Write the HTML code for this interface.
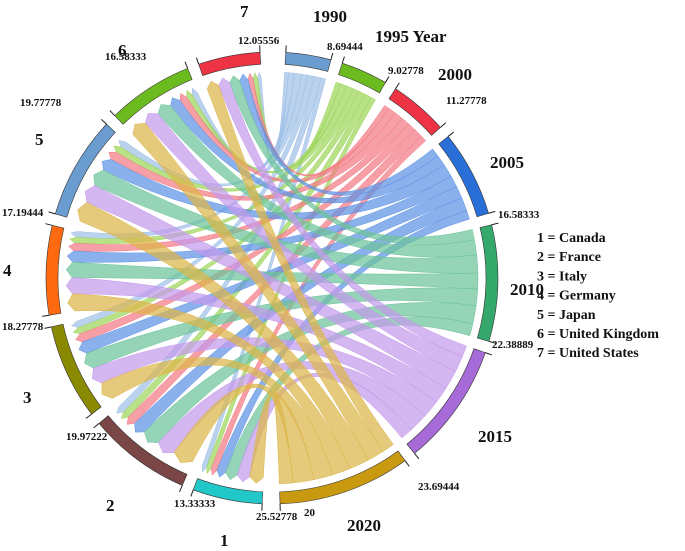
<!DOCTYPE html>
<html><head><meta charset="utf-8"><style>
body{margin:0;background:#fff}
svg{display:block}
text{font-family:"Liberation Serif",serif;font-weight:bold;fill:#111}
.v{font-size:11px}.n{font-size:17px}.lg{font-size:14px}
</style></head><body>
<svg id="c" width="685" height="551"></svg>
<script>
const years=["1990","1995","2000","2005","2010","2015","2020"];
const yearTotals=["8.69444","9.02778","11.27778","16.58333","22.38889","23.69444","25.52778"];
const countries=["1","2","3","4","5","6","7"];
const countryTotals=["13.33333","19.97222","18.27778","17.19444","19.77778","16.58333","12.05556"];
const flow1990=[1.0,1.5,1.4,1.3,1.5,1.2,0.8];
const flow1995=[1.0,1.5,1.4,1.3,1.5,1.3,1.0];
const flow2000=[1.3,1.9,1.8,1.7,1.9,1.6,1.1];
const flow2005=[1.9,2.8,2.6,2.4,2.8,2.3,1.8];
const flow2010=[2.6,3.8,3.5,3.3,3.8,3.2,2.2];
const flow2015=[2.7,4.0,3.7,3.5,4.0,3.4,2.4];
const flow2020=[2.9,4.4,4.0,3.7,4.3,3.6,2.6];
const flows=[flow1990,flow1995,flow2000,flow2005,flow2010,flow2015,flow2020];
const legend=["1 = Canada","2 = France","3 = Italy","4 = Germany","5 = Japan","6 = United Kingdom","7 = United States"];

const yearCol=["#6a9ccf","#6cbb1e","#ee3344","#2a6fd8","#35a86c","#a76ad9","#c99a10"];
const ribCol=["#9fc0e6","#9ed65a","#f47a85","#5e93e6","#6cc49a","#c49aec","#dcb64a"];
const cCol=["#22c8c8","#7a4646","#8a8a00","#ff6a10","#6a9ccf","#6cbb1e","#ee3344"];
const cx=272,cy=278,R1=214,R2=226,RR=206,GAP=3,S=1.335;
const svg=document.getElementById('c');
const NS="http://www.w3.org/2000/svg";
function pt(a,r){const t=a*Math.PI/180;return [cx+r*Math.sin(t),cy-r*Math.cos(t)];}
function el(tag,at){const e=document.createElementNS(NS,tag);for(const k in at)e.setAttribute(k,at[k]);svg.appendChild(e);return e;}
function arcPath(a0,a1,r0,r1){const p=pt(a0,r1),q=pt(a1,r1),u=pt(a1,r0),v=pt(a0,r0);const l=(a1-a0)>180?1:0;
return `M${p}A${r1},${r1} 0 ${l} 1 ${q}L${u}A${r0},${r0} 0 ${l} 0 ${v}Z`;}
const ySum=flows.map(r=>r.reduce((a,b)=>a+b,0));
const cSum=countries.map((_,j)=>flows.reduce((a,r)=>a+r[j],0));
let yStart=[],a=3.5;
for(let i=0;i<7;i++){yStart.push(a);a+=ySum[i]*S+GAP;}
let cStart=[];a=182.5;
for(let j=0;j<7;j++){cStart.push(a);a+=cSum[j]*S+GAP;}
const yPos={},cPos={};
for(let i=0;i<7;i++){let s=yStart[i];for(let j=6;j>=0;j--){yPos[i+'_'+j]=[s,s+flows[i][j]*S];s+=flows[i][j]*S;}}
for(let j=0;j<7;j++){let s=cStart[j];for(let i=6;i>=0;i--){cPos[i+'_'+j]=[s,s+flows[i][j]*S];s+=flows[i][j]*S;}}
for(let i=0;i<7;i++)for(let j=0;j<7;j++){
 const [a0,a1]=yPos[i+'_'+j],[b0,b1]=cPos[i+'_'+j];
 const p0=pt(a0,RR),p1=pt(a1,RR),q0=pt(b0,RR-6),q1=pt(b1,RR-6),tip=pt((b0+b1)/2,RR);
 const m0=pt(a1,RR*0.25),m1=pt(a0,RR*0.25);
 const k0=[(m0[0]+cx)/2,(m0[1]+cy)/2],k1=[(m1[0]+cx)/2,(m1[1]+cy)/2];
 const d=`M${p0}A${RR},${RR} 0 0 1 ${p1}Q${k0} ${q0}L${tip}L${q1}Q${k1} ${p0}Z`;
 const e=el('path',{d:d,fill:ribCol[i],'fill-opacity':0.72,stroke:ribCol[i],'stroke-width':0.5});
 
 
}
for(let i=0;i<7;i++){
 const e=el('path',{d:arcPath(yStart[i],yStart[i]+ySum[i]*S,R1,R2),fill:yearCol[i],stroke:'#333','stroke-width':0.6});
 
 
}
for(let j=0;j<7;j++){
 const e=el('path',{d:arcPath(cStart[j],cStart[j]+cSum[j]*S,R1,R2),fill:cCol[j],stroke:'#333','stroke-width':0.6});
 
 
}
function tick(an){const p=pt(an,R2),q=pt(an,R2+7);el('line',{x1:p[0],y1:p[1],x2:q[0],y2:q[1],stroke:'#222','stroke-width':1});}
for(let i=0;i<7;i++){tick(yStart[i]);tick(yStart[i]+ySum[i]*S);}
for(let j=0;j<7;j++){tick(cStart[j]);tick(cStart[j]+cSum[j]*S);}
function txt(x,y,s,cls,name){const t=el('text',{x:x,y:y,class:cls});t.textContent=s;
 
 }
const yv=[[327,50],[388,74],[446,104],[498,218],[492,348],[418,490],[256,520]];
for(let i=0;i<7;i++)txt(yv[i][0],yv[i][1],yearTotals[i],'v','value-'+years[i]);
const cv=[[174,507],[66,440],[2,330],[2,216],[20,106],[105,60],[238,44]];
for(let j=0;j<7;j++)txt(cv[j][0],cv[j][1],countryTotals[j],'v','value-country-'+countries[j]);
txt(304,516,"20",'v','tick-20');
const yn=[[313,22],[375,42],[438,80],[490,168],[510,295],[478,442],[347,531]];
for(let i=0;i<7;i++)txt(yn[i][0],yn[i][1],i==1?"1995 Year":years[i],'n','label-'+years[i]);
const cn=[[220,546],[106,511],[23,403],[3,276],[35,145],[118,56],[240,17]];
for(let j=0;j<7;j++)txt(cn[j][0],cn[j][1],countries[j],'n','label-country-'+countries[j]);
for(let k=0;k<7;k++)txt(537,242+k*19.2,legend[k],'lg','legend-entry-'+(k+1));
</script>
</body></html>
